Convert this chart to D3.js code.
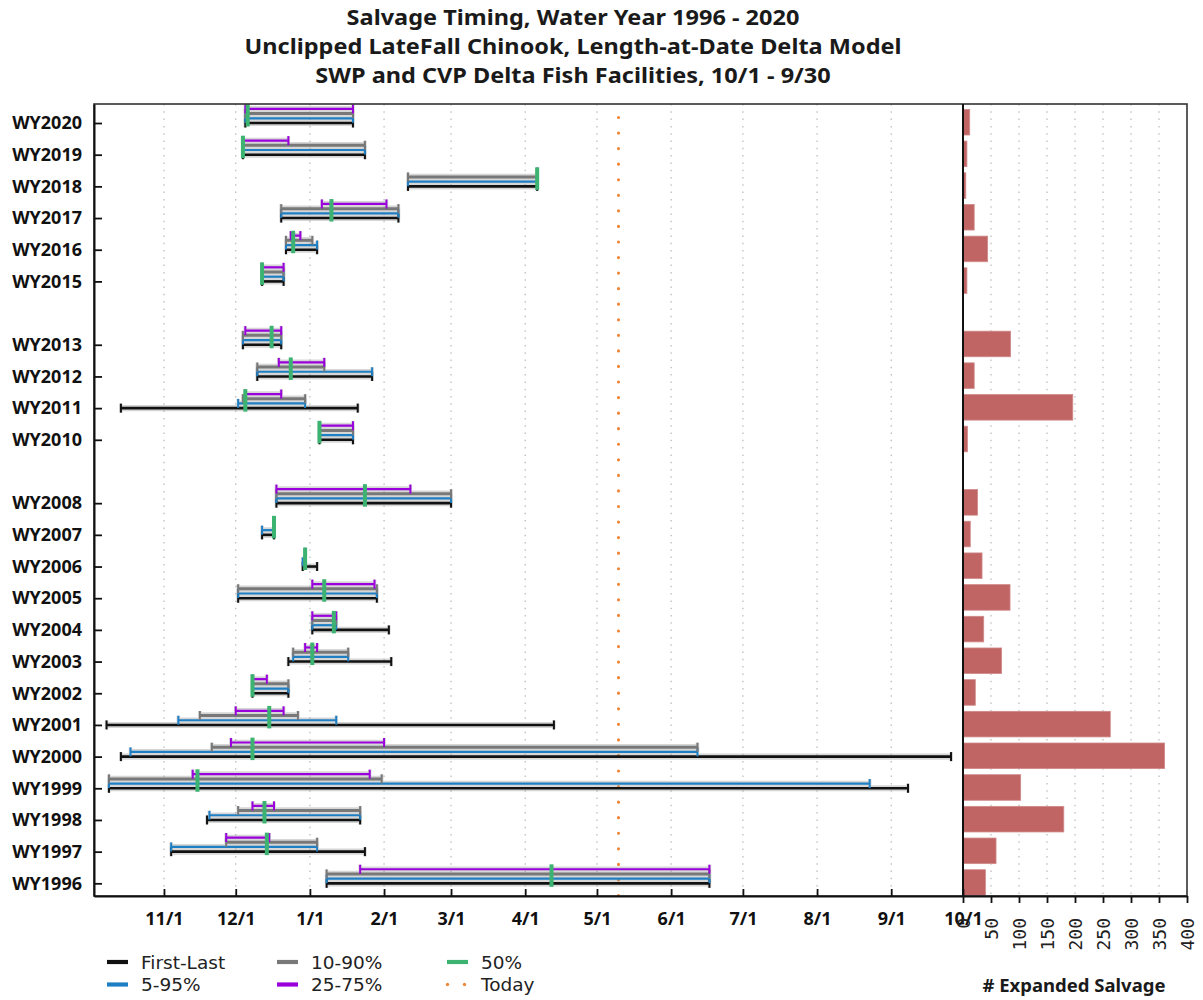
<!DOCTYPE html>
<html><head><meta charset="utf-8">
<script src="https://cdn.jsdelivr.net/npm/d3@7"></script>
<style>body{margin:0;background:#fff}</style>
</head><body><svg id="c" width="1203" height="1000"></svg>
<script>
// ---------------- data ----------------
const years = [2020,2019,2018,2017,2016,2015,2013,2012,2011,2010,2008,2007,2006,2005,2004,2003,2002,2001,2000,1999,1998,1997,1996];
const firstLast = [["12/5","1/19"],["12/4","1/24"],["2/11","4/6"],["12/20","2/7"],["12/22","1/4"],["12/12","12/21"],["12/4","12/20"],["12/10","1/27"],["10/14","1/21"],["1/5","1/19"],["12/18","3/1"],["12/12","12/17"],["12/29","1/4"],["12/2","1/29"],["1/2","2/3"],["12/23","2/4"],["12/8","12/23"],["10/8","4/13"],["10/14","9/26"],["10/9","9/8"],["11/19","1/22"],["11/4","1/24"],["1/8","6/17"]];
const pct05_95 = [["12/5","1/19"],["12/4","1/24"],["2/11","4/6"],["12/20","2/7"],["12/22","1/4"],["12/12","12/21"],["12/4","12/20"],["12/10","1/27"],["12/2","12/30"],["1/5","1/19"],["12/18","3/1"],["12/12","12/17"],["12/29","12/30"],["12/2","1/29"],["1/2","1/12"],["12/25","1/17"],["12/8","12/23"],["11/7","1/12"],["10/18","6/12"],["10/9","8/23"],["11/20","1/22"],["11/4","1/4"],["1/8","6/17"]];
const pct10_90 = [["12/5","1/19"],["12/4","1/24"],["2/11","4/6"],["12/20","2/7"],["12/22","1/2"],["12/12","12/21"],["12/4","12/20"],["12/10","1/7"],["12/4","12/30"],["1/5","1/19"],["12/18","3/1"],["12/17","12/17"],["12/30","12/30"],["12/2","1/29"],["1/2","1/12"],["12/25","1/17"],["12/8","12/23"],["11/16","12/27"],["11/21","6/12"],["10/9","1/31"],["12/2","1/22"],["11/27","1/4"],["1/8","6/17"]];
const pct25_75 = [["12/5","1/19"],["12/4","12/23"],["4/6","4/6"],["1/6","2/2"],["12/24","12/28"],["12/12","12/21"],["12/5","12/20"],["12/19","1/7"],["12/5","12/20"],["1/5","1/19"],["12/18","2/12"],["12/17","12/17"],["12/30","12/30"],["1/2","1/28"],["1/2","1/12"],["12/30","1/4"],["12/8","12/14"],["12/1","12/21"],["11/29","2/1"],["11/13","1/26"],["12/8","12/17"],["11/27","12/15"],["1/22","6/17"]];
const pct50 = ["12/6","12/4","4/6","1/10","12/25","12/12","12/16","12/24","12/5","1/5","1/24","12/17","12/30","1/7","1/11","1/2","12/8","12/15","12/8","11/15","12/13","12/14","4/12"];
const salvage = [12,7,5,20,44,7,85,20,196,8,26,13,34,84,37,69,22,263,360,103,180,59,40];
const today = "5/10";
const monthTicks = ["11/1","12/1","1/1","2/1","3/1","4/1","5/1","6/1","7/1","8/1","9/1","10/1"];
const salvageTicks = [0,50,100,150,200,250,300,350,400];
const titleLines = ["Salvage Timing, Water Year 1996 - 2020","Unclipped LateFall Chinook, Length-at-Date Delta Model","SWP and CVP Delta Fish Facilities, 10/1 - 9/30"];

// ---------------- helpers ----------------
function toDate(s){ const [m,d]=s.split("/").map(Number); return new Date(Date.UTC(m>=10?2018:2019, m-1, d)); }
const tickDates = monthTicks.map((s,i)=>{ let dt = toDate(s); if(i===monthTicks.length-1 && s==="10/1") dt = new Date(Date.UTC(2019,9,1)); return dt; });

const svg = d3.select("#c");
const L=94, R=963, T=104, B=896, R2=1187;
const x = d3.scaleUtc().domain([new Date(Date.UTC(2018,9,2,18)), new Date(Date.UTC(2019,9,1))]).range([L,R]);
const y = d3.scaleLinear().domain([1995.6,2020.6]).range([B,T]);
const x2 = d3.scaleLinear().domain([0,400]).range([R,R2]);

// title
svg.append("g").attr("transform","translate(573,0) scale(1.12,1)")
  .selectAll("text").data(titleLines).join("text")
  .attr("x",0).attr("y",(d,i)=>25+i*29).attr("text-anchor","middle")
  .style("font-family","'Noto Sans'").style("font-weight","bold").style("font-size","21px").attr("fill","#1a1a1a")
  .text(d=>d);

// grids
const grid = svg.append("g");
grid.selectAll("line.g1").data(tickDates.slice(0,-1)).join("line")
  .attr("x1",d=>x(d)).attr("x2",d=>x(d)).attr("y1",T).attr("y2",B)
  .attr("stroke","#b8b8b8").attr("stroke-width",1.2).attr("stroke-dasharray","1.5,5.8");
grid.selectAll("line.g2").data(salvageTicks.slice(1,-1)).join("line")
  .attr("x1",d=>x2(d)).attr("x2",d=>x2(d)).attr("y1",T).attr("y2",B)
  .attr("stroke","#b8b8b8").attr("stroke-width",1.2).attr("stroke-dasharray","1.5,5.8");

// bars
svg.append("g").selectAll("rect").data(years).join("rect")
  .attr("x",x2(0)).attr("y",d=>y(d)-13.6).attr("height",25.6)
  .attr("width",(d,i)=>x2(salvage[i])-x2(0))
  .attr("fill","#c06464").attr("stroke","#d08a8a").attr("stroke-width",0.8);

// today line
svg.append("line").attr("x1",x(toDate(today))).attr("x2",x(toDate(today))).attr("y1",T).attr("y2",B)
  .attr("stroke","#f0883a").attr("stroke-width",3.2).attr("stroke-linecap","round")
  .attr("stroke-dasharray","0,15.56").attr("stroke-dashoffset",2.06);

// range lines
const series = [
  {data:firstLast, off:0,     color:"#111111", w:2.6},
  {data:pct05_95,  off:-4.7,  color:"#1f7fc4", w:2.2},
  {data:pct10_90,  off:-9.4,  color:"#787878", w:3.0},
  {data:pct25_75,  off:-14.1, color:"#9a00dc", w:2.2}
];
const halo = svg.append("g").attr("opacity",0.4);
const core = svg.append("g");
series.forEach(s=>{
  years.forEach((yr,i)=>{
    const [a,b] = s.data[i];
    const xa = x(toDate(a)), xb = x(toDate(b)), yy = y(yr)+s.off;
    [[halo,"#9a9a9a",s.w+3.5,3.5],[core,s.color,s.w,2]].forEach(([g,c,w,cw])=>{
      g.append("line").attr("x1",xa).attr("x2",xb).attr("y1",yy).attr("y2",yy).attr("stroke",c).attr("stroke-width",w);
      [xa,xb].forEach(xx=>g.append("line").attr("x1",xx).attr("x2",xx).attr("y1",yy-4.5).attr("y2",yy+4.5).attr("stroke",c).attr("stroke-width",cw));
    });
  });
});
// medians
svg.append("g").selectAll("line").data(years).join("line")
  .attr("x1",(d,i)=>x(toDate(pct50[i]))).attr("x2",(d,i)=>x(toDate(pct50[i])))
  .attr("y1",d=>y(d)+3.5).attr("y2",d=>y(d)-19)
  .attr("stroke","#3cb371").attr("stroke-width",4);

// frames
svg.append("rect").attr("x",L).attr("y",T).attr("width",R2-L).attr("height",B-T).attr("fill","none").attr("stroke","#333").attr("stroke-width",1.6);

// axes
const gy = svg.append("g").attr("transform",`translate(${L},0)`)
  .call(d3.axisLeft(y).tickValues(years).tickSizeInner(-8).tickSizeOuter(0).tickPadding(12).tickFormat(d=>"WY"+d));
gy.select(".domain").attr("stroke","#111").attr("stroke-width",2);
gy.selectAll(".tick line").attr("stroke","#111").attr("stroke-width",1.8);
gy.selectAll("text").style("font-family","'Noto Sans'").style("font-weight","bold").style("font-size","18px").attr("fill","#111");

const gx = svg.append("g").attr("transform",`translate(0,${B})`)
  .call(d3.axisBottom(x).tickValues(tickDates).tickSizeInner(-7).tickSizeOuter(0).tickPadding(16.5).tickFormat((d,i)=>monthTicks[i]));
gx.select(".domain").attr("stroke","#111").attr("stroke-width",2);
gx.selectAll(".tick line").attr("stroke","#111").attr("stroke-width",1.8);
gx.selectAll("text").style("font-family","'Noto Sans'").style("font-weight","bold").style("font-size","18px").attr("fill","#111");

const gx2 = svg.append("g").attr("transform",`translate(0,${B})`)
  .call(d3.axisBottom(x2).tickValues(salvageTicks).tickSizeInner(7).tickSizeOuter(0).tickFormat(d3.format("d")));
gx2.select(".domain").attr("stroke","#111").attr("stroke-width",2);
gx2.selectAll(".tick line").attr("stroke","#111").attr("stroke-width",1.8);
gx2.selectAll("text").attr("transform","rotate(-90)").attr("x",-22).attr("y",0).attr("dy","0.35em")
  .attr("text-anchor","end").style("font-family","'DejaVu Sans Mono'").style("font-size","18px").attr("fill","#222");

// divider
svg.append("line").attr("x1",R).attr("x2",R).attr("y1",T).attr("y2",B).attr("stroke","#111").attr("stroke-width",2);

svg.append("text").attr("x",1074).attr("y",992).attr("text-anchor","middle")
  .style("font-family","'Noto Sans'").style("font-weight","bold").style("font-size","18.5px").attr("fill","#1a1a1a")
  .text("# Expanded Salvage");

// legend
const legendItems = [
  {label:"First-Last", color:"#111111", col:0,row:0},
  {label:"5-95%", color:"#1f7fc4", col:0,row:1},
  {label:"10-90%", color:"#787878", col:1,row:0},
  {label:"25-75%", color:"#9a00dc", col:1,row:1},
  {label:"50%", color:"#3cb371", col:2,row:0},
  {label:"Today", color:"#f0883a", col:2,row:1, dots:true}
];
const lg = svg.append("g");
legendItems.forEach(it=>{
  const x0 = 107 + it.col*170, yc = 962 + it.row*22.5;
  if(it.dots){
    [x0+0.5, x0+17.5].forEach(cx=>lg.append("circle").attr("cx",cx).attr("cy",yc).attr("r",1.7).attr("fill",it.color));
  } else {
    lg.append("line").attr("x1",x0).attr("x2",x0+21).attr("y1",yc).attr("y2",yc).attr("stroke",it.color).attr("stroke-width",4.2);
  }
  lg.append("text").attr("x",x0+34).attr("y",yc+6.6).text(it.label)
    .style("font-family","'DejaVu Sans'").style("font-size","18.5px").attr("fill","#222");
});
</script></body></html>
